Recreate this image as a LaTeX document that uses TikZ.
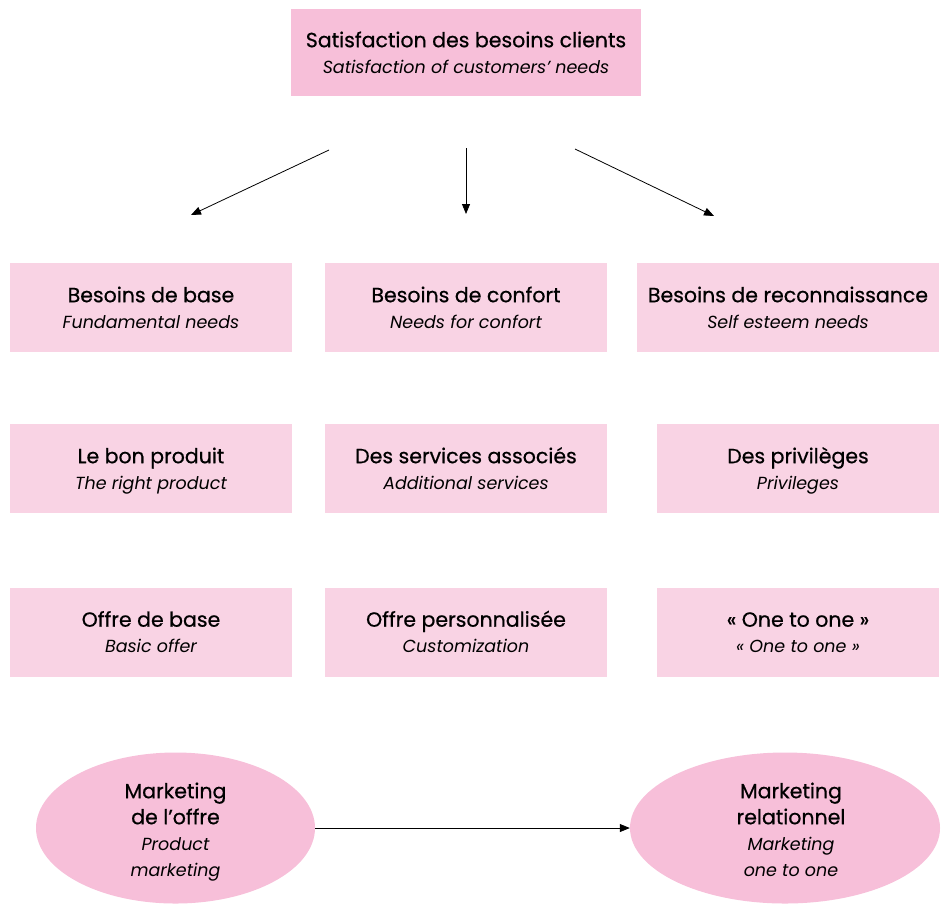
\documentclass[tikz,border=0pt]{standalone}
\usepackage{fontspec}
\setmainfont{Poppins}
\newfontfamily\ttlfont{Poppins}[FakeBold=0.6]
\usetikzlibrary{arrows.meta,shapes.geometric}
\definecolor{pinkA}{HTML}{F7BFD9}
\definecolor{pinkB}{HTML}{F9D3E4}
\tikzset{
  box/.style={rectangle, fill=pinkB, inner sep=0pt, minimum width=282pt, minimum height=89pt, align=center, font=\fontsize{20.5}{26}\selectfont},
  topbox/.style={box, fill=pinkA, minimum width=350pt, minimum height=87pt},
  oval/.style={ellipse, fill=pinkA, inner sep=0pt, minimum height=151pt, align=center, font=\fontsize{20.5}{26}\selectfont},
  ovaltext/.style={align=center, inner sep=0pt, font=\fontsize{20.5}{26}\selectfont},
  arr/.style={-{Triangle[length=10pt,width=8pt]}, line width=0.8pt}
}
\newcommand{\ttl}[1]{{\ttlfont\rule[-7.8pt]{0pt}{31pt}#1}}
\newcommand{\ttlo}[1]{{\ttlfont\strut #1}}
\newcommand{\sbt}[1]{{\itshape\fontsize{17.5}{26}\selectfont\strut #1}}
\begin{document}
\begin{tikzpicture}[x=1pt,y=-1pt]
\useasboundingbox (0,0) rectangle (941,903);
\node[topbox] (top) at (466,52.5) {\ttl{Satisfaction des besoins clients}\\\sbt{Satisfaction of customers' needs}};

\node[box] (b1) at (151,307.5) {\ttl{Besoins de base}\\\sbt{Fundamental needs}};
\node[box] (b2) at (466,307.5) {\ttl{Besoins de confort}\\\sbt{Needs for confort}};
\node[box, minimum width=302pt] (b3) at (788,307.5) {\ttl{Besoins de reconnaissance}\\\sbt{Self esteem needs}};

\node[box] (p1) at (151,468.5) {\ttl{Le bon produit}\\\sbt{The right product}};
\node[box] (p2) at (466,468.5) {\ttl{Des services associés}\\\sbt{Additional services}};
\node[box] (p3) at (798,468.5) {\ttl{Des privilèges}\\\sbt{Privileges}};

\node[box] (o1) at (151,632) {\ttl{Offre de base}\\\sbt{Basic offer}};
\node[box] (o2) at (466,632) {\ttl{Offre personnalisée}\\\sbt{Customization}};
\node[box] (o3) at (798,632) {\ttl{« One to one »}\\\sbt{« One to one »}};

\node[oval, minimum width=279pt] (m1) at (175.5,828) {};
\node[oval, minimum width=310pt] (m2) at (785,828) {};
\node[ovaltext] (t1) at (175.5,832) {\ttlo{Marketing}\\\ttlo{de l’offre}\\\sbt{Product}\\\sbt{marketing}};
\node[ovaltext] (t2) at (791,832) {\ttlo{Marketing}\\\ttlo{relationnel}\\\sbt{Marketing}\\\sbt{one to one}};

\coordinate (a1s) at (329,150);
\coordinate (a1e) at (191,215);
\coordinate (a2s) at (466,148);
\coordinate (a2e) at (466,214);
\coordinate (a3s) at (575,149);
\coordinate (a3e) at (714,216);
\draw[arr] (a1s) -- (a1e);
\draw[arr] (a2s) -- (a2e);
\draw[arr] (a3s) -- (a3e);
\draw[arr] (m1.east) -- (m2.west);
\end{tikzpicture}
\end{document}
